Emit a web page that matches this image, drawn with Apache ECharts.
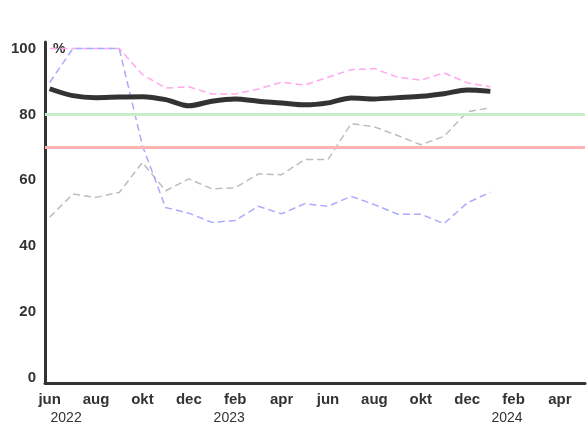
<!DOCTYPE html>
<html>
<head>
<meta charset="utf-8">
<script src="https://cdn.jsdelivr.net/npm/echarts@6/dist/echarts.min.js"></script>
<style>
  html, body { margin: 0; padding: 0; background: #fff; }
  #chart { width: 588px; height: 425px; }
</style>
</head>
<body>
<div id="chart"></div>
<script>
// month index 0 = jun 2022
var monthIdx = [0,1,2,3,4,5,6,7,8,9,10,11,12,13,14,15,16,17,18,19];
var monthNames = ['jun','jul','aug','sep','okt','nov','dec','jan','feb','mar','apr','maj',
                  'jun','jul','aug','sep','okt','nov','dec','jan','feb','mar','apr','maj'];
var tickMonths = [0,2,4,6,8,10,12,14,16,18,20,22];
var yTicks = [0,20,40,60,80,100];
var years = ['2022','2023','2024'];
var yearPos = [0.71, 7.74, 19.72];

var mainVals  = [87.8,85.7,85.1,85.3,85.4,84.5,82.6,84.0,84.7,84.0,83.5,82.9,83.5,85.0,84.7,85.1,85.5,86.3,87.4,87.0];
var pinkVals  = [100,100,100,100,92.1,88.0,88.4,86.2,86.2,87.7,89.8,88.9,91.3,93.6,93.9,91.3,90.4,92.6,89.6,88.4];
var blueVals  = [89.7,100,100,100,70.5,51.7,50.0,47.2,47.8,52.1,49.8,52.9,52.1,55.1,52.6,49.7,49.7,46.8,53.1,56.4];
var grayVals  = [48.8,55.8,54.8,56.3,65.4,56.8,60.4,57.4,57.7,61.9,61.7,66.3,66.3,77.2,76.2,73.6,70.8,73.3,80.8,82.0];
var goalHigh = 80, goalLow = 70;

function pairs(v) { return monthIdx.map(function(m, i) { return [m, v[i]]; }); }

var chart = echarts.init(document.getElementById('chart'));
var dashed = function(name, vals, color) {
  return { name: name, type: 'line', data: pairs(vals), symbol: 'none', z: 3,
    lineStyle: { color: color, width: 1.5, type: [7, 4] } };
};
chart.setOption({
  animation: false,
  textStyle: { fontFamily: 'Liberation Sans, Arial, sans-serif' },
  grid: { left: 45, right: 3, top: 42, bottom: 42 },
  xAxis: [{
    type: 'value', min: -0.2, max: 23.08,
    axisLine: { show: true, onZero: false, lineStyle: { color: '#333', width: 3 } },
    axisTick: { show: false }, splitLine: { show: false },
    axisLabel: { customValues: tickMonths, color: '#333', fontSize: 15, fontWeight: 'bold', margin: 9,
      formatter: function(v) { return monthNames[Math.round(v)]; } }
  }, {
    type: 'value', min: -0.2, max: 23.08, position: 'bottom', offset: 20,
    axisLine: { show: false }, axisTick: { show: false }, splitLine: { show: false },
    axisLabel: { customValues: yearPos, color: '#333', fontSize: 14,
      formatter: function(v) { return years[yearPos.indexOf(v)]; } }
  }],
  yAxis: {
    type: 'value', min: -1.6, max: 102,
    axisLine: { show: true, onZero: false, lineStyle: { color: '#333', width: 3 } },
    axisTick: { show: false }, splitLine: { show: false },
    axisLabel: { customValues: yTicks, color: '#333', fontSize: 15, fontWeight: 'bold', margin: 9 }
  },
  graphic: [{ type: 'text', left: 53, top: 42,
    style: { text: '%', fill: '#333', font: 'bold 14px Liberation Sans, Arial, sans-serif' } }],
  series: [
    { name: 'mål', type: 'line', data: [], symbol: 'none', z: 1,
      markLine: { silent: true, symbol: 'none', label: { show: false },
        data: [
          { yAxis: goalHigh, lineStyle: { color: '#c8eec8', width: 3, type: 'solid' } },
          { yAxis: goalLow, lineStyle: { color: '#ffb4b4', width: 3, type: 'solid' } }
        ] } },
    dashed('gray', grayVals, '#bdbdbd'),
    dashed('pink', pinkVals, '#ffa8ee'),
    dashed('blue', blueVals, '#aaaaff'),
    { name: 'main', type: 'line', data: pairs(mainVals), symbol: 'none', smooth: 0.3, z: 5,
      lineStyle: { color: '#333', width: 5 } }
  ]
});
</script>
</body>
</html>
